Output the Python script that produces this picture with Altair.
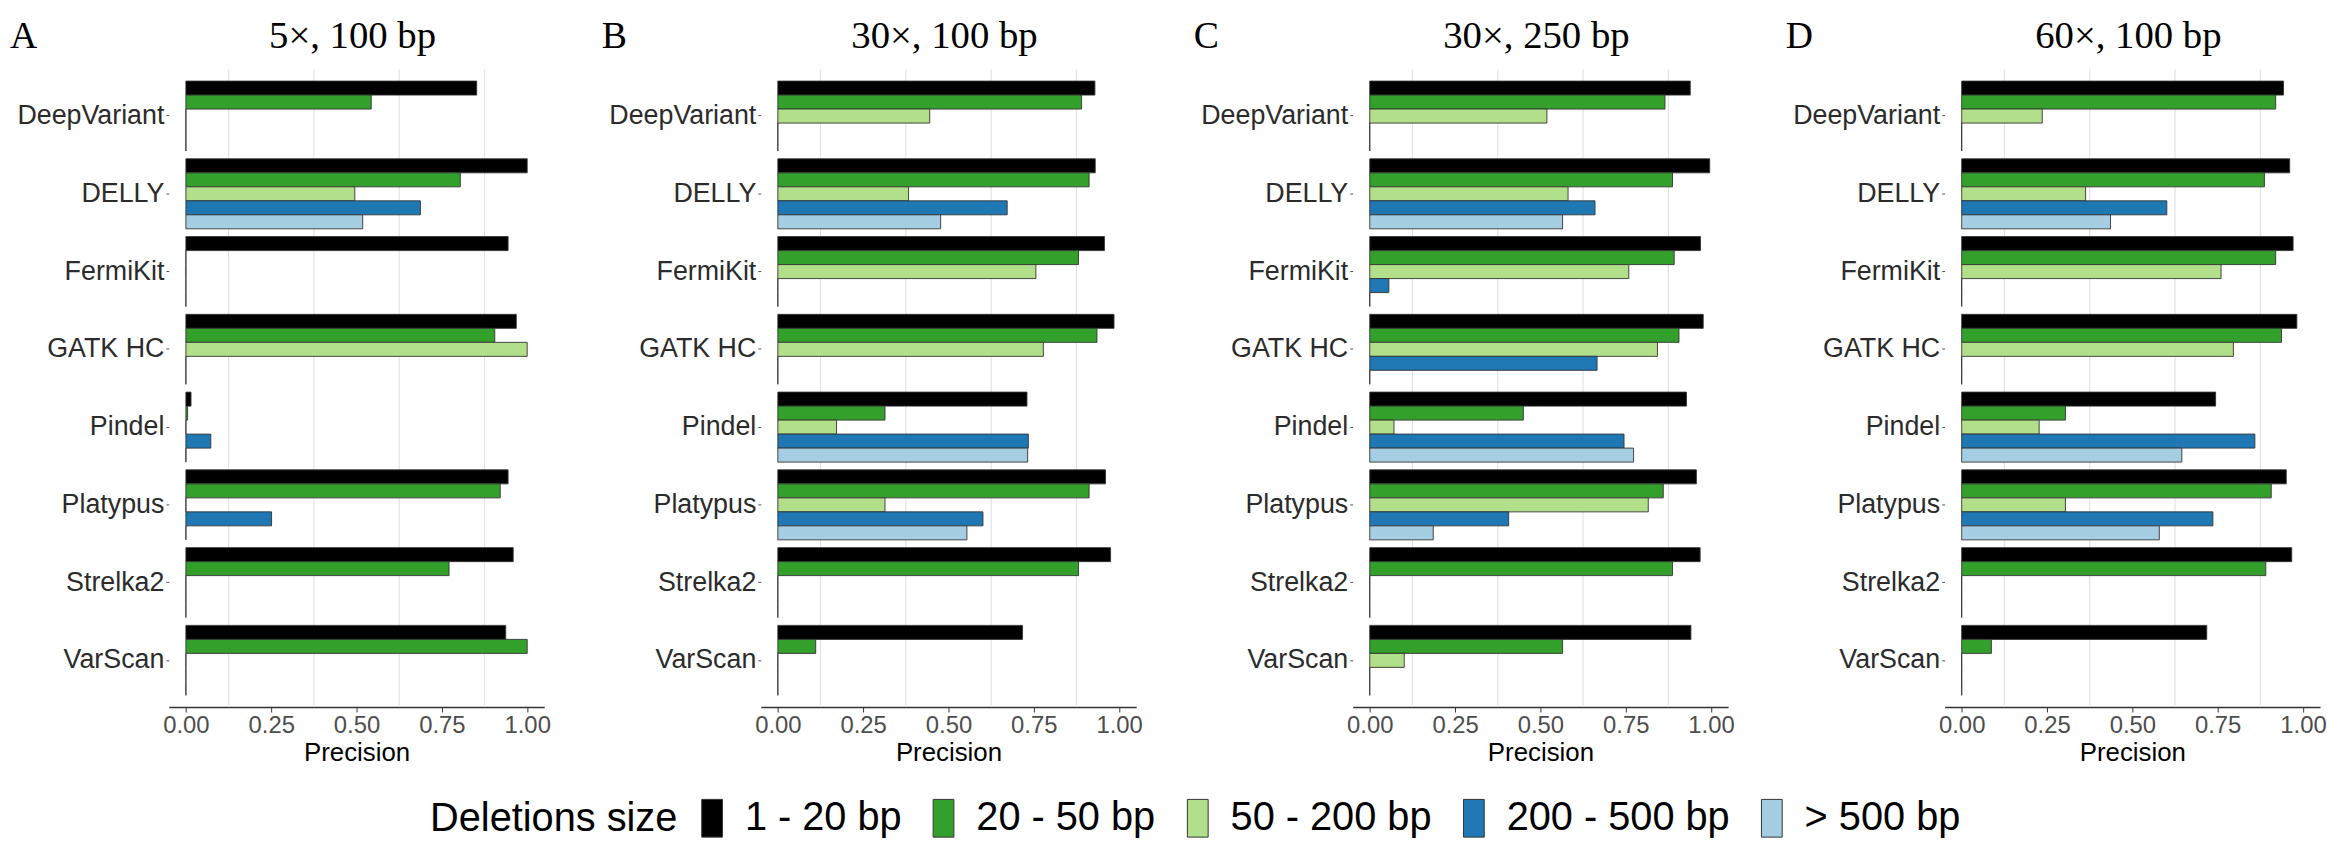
import altair as alt
import pandas as pd

tools = ["DeepVariant", "DELLY", "FermiKit", "GATK HC", "Pindel", "Platypus", "Strelka2", "VarScan"]
sizes = ["1 - 20 bp", "20 - 50 bp", "50 - 200 bp", "200 - 500 bp", "> 500 bp"]
size_colors = ["#000000", "#33a02c", "#b2df8a", "#1f78b4", "#a6cee3"]
panel_letters = ["A", "B", "C", "D"]
panel_titles = ["5×, 100 bp", "30×, 100 bp", "30×, 250 bp", "60×, 100 bp"]
tick_values = [0, 0.25, 0.5, 0.75, 1.0]
grid_values = [0.125, 0.375, 0.625, 0.875]

# Precision per size class, listed in the order of `tools`
a_1_20 = [0.852, 1.000, 0.944, 0.968, 0.015, 0.944, 0.959, 0.937]
a_20_50 = [0.543, 0.804, 0.0, 0.905, 0.005, 0.921, 0.771, 1.000]
a_50_200 = [0.0, 0.495, 0.0, 1.000, 0.0, 0.0, 0.0, 0.0]
a_200_500 = [0.0, 0.687, 0.0, 0.0, 0.073, 0.251, 0.0, 0.0]
a_500 = [0.0, 0.518, 0.0, 0.0, 0.0, 0.0, 0.0, 0.0]

b_1_20 = [0.929, 0.930, 0.957, 0.985, 0.730, 0.960, 0.975, 0.717]
b_20_50 = [0.890, 0.912, 0.881, 0.935, 0.314, 0.912, 0.881, 0.111]
b_50_200 = [0.445, 0.383, 0.756, 0.778, 0.172, 0.314, 0.0, 0.0]
b_200_500 = [0.0, 0.672, 0.0, 0.0, 0.734, 0.601, 0.0, 0.0]
b_500 = [0.0, 0.477, 0.0, 0.0, 0.732, 0.554, 0.0, 0.0]

c_1_20 = [0.939, 0.996, 0.969, 0.977, 0.928, 0.957, 0.968, 0.941]
c_20_50 = [0.865, 0.887, 0.892, 0.906, 0.450, 0.860, 0.887, 0.565]
c_50_200 = [0.519, 0.581, 0.759, 0.843, 0.071, 0.816, 0.0, 0.101]
c_200_500 = [0.0, 0.660, 0.056, 0.666, 0.745, 0.407, 0.0, 0.0]
c_500 = [0.0, 0.565, 0.0, 0.0, 0.773, 0.186, 0.0, 0.0]

d_1_20 = [0.943, 0.961, 0.971, 0.982, 0.744, 0.951, 0.967, 0.718]
d_20_50 = [0.920, 0.887, 0.920, 0.937, 0.304, 0.907, 0.891, 0.087]
d_50_200 = [0.236, 0.363, 0.760, 0.796, 0.227, 0.304, 0.0, 0.0]
d_200_500 = [0.0, 0.601, 0.0, 0.0, 0.859, 0.736, 0.0, 0.0]
d_500 = [0.0, 0.436, 0.0, 0.0, 0.645, 0.579, 0.0, 0.0]

panels = [
    [a_1_20, a_20_50, a_50_200, a_200_500, a_500],
    [b_1_20, b_20_50, b_50_200, b_200_500, b_500],
    [c_1_20, c_20_50, c_50_200, c_200_500, c_500],
    [d_1_20, d_20_50, d_50_200, d_200_500, d_500],
]

PW, PH = 378, 642
SANS = "Liberation Sans"
SERIF = "Liberation Serif"

xscale = alt.Scale(domain=[-0.05, 1.05], nice=False, zero=False)
xaxis = alt.Axis(
    values=tick_values, format=".2f", grid=False,
    labelFontSize=24, labelFont=SANS, labelColor="#4d4d4d",
    titleFontSize=26, titleFont=SANS, titleFontWeight="normal",
    titleColor="#000000", tickSize=5, tickColor="#333333",
    domainColor="#333333", domainWidth=1.6, labelPadding=2,
    titlePadding=2, labelFlush=False,
)


def make_panel(i):
    rows = []
    for s, series in zip(sizes, panels[i]):
        for t, v in zip(tools, series):
            rows.append({"tool": t, "size": s, "precision": v})
    df = pd.DataFrame(rows)

    grid = alt.Chart(pd.DataFrame({"g": grid_values})).mark_rule(
        color="#e2e2e2", strokeWidth=1.2
    ).encode(x=alt.X("g:Q", scale=xscale, axis=xaxis, title="Precision"))

    bars = alt.Chart(df).mark_bar(stroke="#333333", strokeWidth=0.9).encode(
        x=alt.X("precision:Q", scale=xscale, title="Precision", axis=xaxis),
        x2=alt.datum(0),
        y=alt.Y(
            "tool:N", sort=tools,
            scale=alt.Scale(paddingInner=0.1, paddingOuter=0.15),
            axis=alt.Axis(
                title=None, domain=False, tickSize=3, tickColor="#555555",
                labelFontSize=27, labelFont=SANS, labelColor="#2b2b2b",
                labelPadding=2, labelLimit=400,
            ),
        ),
        yOffset=alt.YOffset("size:N", sort=sizes,
                            scale=alt.Scale(paddingInner=0, paddingOuter=0)),
        color=alt.Color(
            "size:N", sort=sizes,
            scale=alt.Scale(domain=sizes, range=size_colors),
            legend=alt.Legend(
                title="Deletions size", orient="none", legendX=263, legendY=734,
                direction="horizontal", titleOrient="left",
                titleFontSize=40, titleFont=SANS, titleFontWeight="normal",
                titleColor="#000000", titleBaseline="middle", titleLimit=1000,
                labelFontSize=40, labelFont=SANS, labelColor="#000000",
                labelLimit=1000,
                symbolType="M-0.55,-1H0.55V1H-0.55Z", symbolSize=1444,
                symbolStrokeColor="#333333", symbolStrokeWidth=1,
                labelOffset=13, columnPadding=22, titlePadding=14,
            ),
        ),
    )

    letter = alt.Chart(pd.DataFrame({"t": [panel_letters[i]]})).mark_text(
        font=SERIF, fontSize=38, align="left", baseline="alphabetic", color="#000000"
    ).encode(text="t:N", x=alt.value(-160), y=alt.value(-22))

    title = alt.Chart(pd.DataFrame({"t": [panel_titles[i]]})).mark_text(
        font=SERIF, fontSize=39, align="center", baseline="alphabetic", color="#000000"
    ).encode(text="t:N", x=alt.value(PW / 2 - 4), y=alt.value(-22))

    return alt.layer(grid, bars, letter, title).properties(width=PW, height=PH)


chart = alt.hconcat(*[make_panel(i) for i in range(4)], spacing=51).properties(
    padding={"left": 10, "top": 14, "right": 0, "bottom": 0},
    background="white",
).configure_view(stroke=None)

chart.save("out.html", embed_options={"renderer": "svg", "actions": False})
